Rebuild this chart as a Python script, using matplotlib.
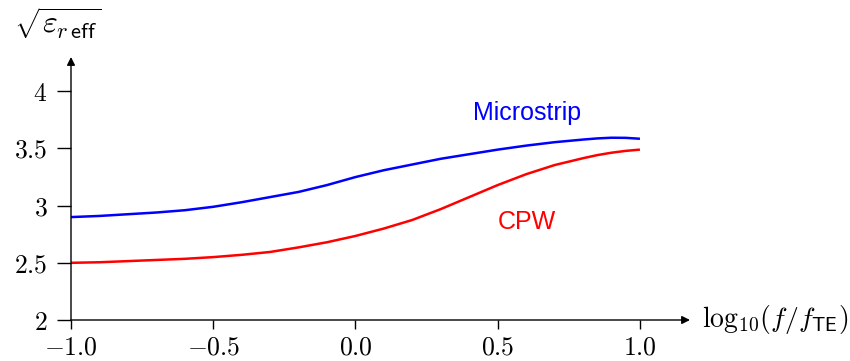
import matplotlib
matplotlib.use("Agg")
import matplotlib.pyplot as plt

plt.rcParams['mathtext.fontset'] = 'cm'
plt.rcParams['font.family'] = ['Liberation Sans', 'DejaVu Sans']

# normalised frequency log10(f/f_TE)
log_f = [-1.0, -0.9, -0.8, -0.7, -0.6, -0.5, -0.4, -0.3, -0.2, -0.1, 0.0,
         0.1, 0.2, 0.3, 0.4, 0.5, 0.6, 0.7, 0.8, 0.85, 0.9, 0.95, 1.0]
# sqrt(eps_r eff) for each line type
microstrip = [2.90, 2.91, 2.925, 2.94, 2.96, 2.99, 3.03, 3.075, 3.12, 3.18, 3.25,
              3.31, 3.36, 3.41, 3.45, 3.49, 3.525, 3.555, 3.578, 3.588, 3.594,
              3.593, 3.585]
cpw = [2.50, 2.505, 2.515, 2.525, 2.535, 2.55, 2.57, 2.595, 2.635, 2.68, 2.735,
       2.80, 2.875, 2.97, 3.075, 3.18, 3.275, 3.355, 3.415, 3.442, 3.463,
       3.479, 3.49]

x_ticks = [-1.0, -0.5, 0.0, 0.5, 1.0]
x_ticklabels = [r'$-1.0$', r'$-0.5$', r'$0.0$', r'$0.5$', r'$1.0$']
y_ticks = [2, 2.5, 3, 3.5, 4]
y_ticklabels = [r'$2$', r'$2.5$', r'$3$', r'$3.5$', r'$4$']

fig = plt.figure(figsize=(8.5, 3.61), dpi=100)
ax = fig.add_axes([71 / 850, 41 / 361, 619 / 850, 263 / 361])

ax.plot(log_f, microstrip, color=(0, 0, 1), lw=1.8, solid_capstyle='butt')
ax.plot(log_f, cpw, color=(1, 0, 0), lw=1.8, solid_capstyle='butt')

ax.text(0.603, 3.81, 'Microstrip', color=(0, 0, 1), fontsize=18,
        ha='center', va='center')
ax.text(0.603, 2.857, 'CPW', color=(1, 0, 0), fontsize=18,
        ha='center', va='center')

ax.set_xlim(-1.0, 1.176)
ax.set_ylim(2.0, 4.30)

for s in ax.spines.values():
    s.set_visible(False)

# axis lines with arrow heads
ax.annotate('', xy=(1.0, 0.0), xytext=(0.0, 0.0), xycoords='axes fraction',
            arrowprops=dict(arrowstyle='-|>', color='black', lw=1.0,
                            mutation_scale=12, shrinkA=0, shrinkB=0))
ax.annotate('', xy=(0.0, 1.0), xytext=(0.0, 0.0), xycoords='axes fraction',
            arrowprops=dict(arrowstyle='-|>', color='black', lw=1.0,
                            mutation_scale=12, shrinkA=0, shrinkB=0))

ax.set_xticks(x_ticks)
ax.set_xticklabels(x_ticklabels)
ax.set_yticks(y_ticks)
ax.set_yticklabels(y_ticklabels)
ax.tick_params(axis='x', direction='out', length=6.5, width=1.0, labelsize=18.5, pad=5)
ax.tick_params(axis='y', direction='out', length=10, width=1.0, labelsize=18.5, pad=7)

ax.text(1.02, 0.0, r'$\mathrm{log}_{10}(f/f_{\mathsf{TE}})$', transform=ax.transAxes,
        fontsize=20, ha='left', va='center')
ax.text(-1.046, 4.60, r'$\sqrt{\varepsilon_{r\,\mathsf{eff}}}$', fontsize=23,
        ha='center', va='center', clip_on=False)

fig.savefig('out.png', dpi=100)
